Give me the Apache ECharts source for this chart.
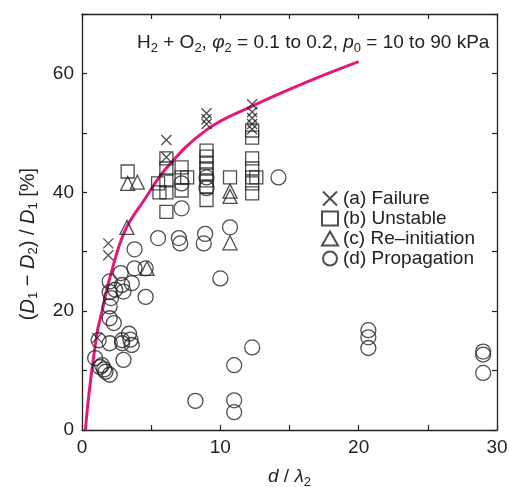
<!DOCTYPE html>
<html>
<head>
<meta charset="utf-8">
<script src="https://cdn.jsdelivr.net/npm/echarts@6/dist/echarts.min.js"></script>
<style>
  html, body { margin: 0; padding: 0; background: #fff; }
  #main { width: 510px; height: 487px; }
</style>
</head>
<body>
<div id="main"></div>
<script>
// values: [d / lambda2, (D1 - D2) / D1 %]
var failure = [
  [1.1, 15.5], [1.9, 31.4], [1.9, 29.4],
  [6.1, 48.8], [6.1, 45.9],
  [9.0, 53.3], [9.0, 52.3], [9.0, 51.5],
  [12.3, 54.8], [12.3, 53.5], [12.3, 52.5], [12.3, 51.5], [12.3, 50.6]
];
var unstable = [
  [3.3, 43.5], [5.5, 41.5], [5.6, 40.0],
  [6.1, 45.7], [6.1, 44.0], [6.1, 42.0], [6.1, 40.0], [6.1, 36.7],
  [7.2, 44.2], [7.2, 42.5], [7.2, 40.3], [7.6, 42.5],
  [9.0, 47.0], [9.0, 46.0], [9.0, 45.0], [9.0, 44.0], [9.0, 43.0], [9.0, 42.0], [9.0, 41.0], [9.0, 38.7],
  [10.7, 42.5],
  [12.3, 50.4], [12.3, 49.2], [12.3, 45.7], [12.3, 44.0], [12.3, 42.5], [12.3, 41.5], [12.3, 39.8], [12.6, 42.5]
];
var reinit = [
  [3.3, 41.5], [4.0, 41.7], [3.25, 34.1], [4.7, 27.2],
  [10.7, 40.2], [10.7, 39.3], [10.7, 31.5]
];
var propagation = [
  [0.95, 12.1], [1.2, 15.1], [1.3, 10.6], [1.45, 10.9], [1.6, 10.2], [1.7, 9.8], [2.0, 9.3],
  [2.0, 14.6], [2.0, 18.8], [2.3, 18.0], [2.0, 20.8], [2.1, 22.2], [2.0, 23.2], [2.0, 25.0],
  [2.4, 23.6], [2.9, 24.4], [2.8, 26.4], [3.0, 23.3], [3.6, 24.7], [3.8, 27.2], [3.8, 30.4],
  [4.6, 27.2], [4.6, 22.4], [2.9, 15.1], [2.9, 14.6], [3.5, 15.2], [3.4, 16.2], [3.6, 14.3],
  [3.0, 11.8], [5.5, 32.3], [7.0, 32.3], [7.1, 31.4], [7.2, 37.3], [7.2, 41.5],
  [8.9, 33.0], [8.8, 31.4], [9.0, 42.5], [9.0, 40.7], [10.7, 34.1], [10.0, 25.5],
  [8.2, 4.9], [11.0, 10.9], [11.0, 5.0], [11.0, 3.0], [12.3, 13.9], [14.2, 42.5],
  [20.7, 16.8], [20.7, 15.6], [20.7, 13.8], [29.0, 13.2], [29.0, 12.7], [29.0, 9.6]
];
// pink curve, points read along it
var curve = [
  [0.25, 0], [0.5, 6], [1.1, 16.5], [1.45, 20], [2.0, 25.5], [3.1, 33.5], [4.5, 38.7],
  [6.15, 44.2], [9.0, 50.5], [12.3, 54.5], [16.5, 58.8], [20.0, 62]
];
var names = ['(a) Failure', '(b) Unstable', '(c) Re\u2013initiation', '(d) Propagation'];

var font = 'Liberation Sans, Arial, Helvetica, sans-serif';
var ink = '#222';
var crossPath = 'path://M0,0L10,10M10,0L0,10';

// rich styles: base text sits at the top of a 22px line, subscripts at its bottom
function richSet(size, key) {
  var b = { fontSize: size, fontFamily: font, lineHeight: 22, verticalAlign: 'top' };
  var i = { fontSize: size, fontFamily: font, fontStyle: 'italic', lineHeight: 22, verticalAlign: 'top' };
  var s = { fontSize: 13, fontFamily: font, lineHeight: 22, verticalAlign: 'bottom' };
  b[key] = ink; i[key] = ink; s[key] = ink;
  return { b: b, i: i, s: s };
}

function markStyle() {
  return { color: 'transparent', borderColor: ink, borderWidth: 1.3 };
}
function tickAxis(extra) {
  var a = {
    axisLine: { onZero: false, lineStyle: { color: ink, width: 1.3 } },
    axisTick: { inside: true, length: 5, lineStyle: { color: ink, width: 1.2 } },
    splitLine: { show: false },
    axisLabel: { color: ink, fontFamily: font, fontSize: 19 }
  };
  for (var k in extra) a[k] = extra[k];
  return a;
}

var chart = echarts.init(document.getElementById('main'));
var option = {
  animation: false,
  grid: { left: 82, right: 13, top: 14, bottom: 57, containLabel: false, outerBoundsMode: 'none' },
  xAxis: [
    tickAxis({
      type: 'value', min: 0, max: 30, interval: 5,
      axisLabel: { color: ink, fontFamily: font, fontSize: 19, margin: 8,
        formatter: function (v) { return v % 10 === 0 ? v : ''; } },
      name: '{i|d}{b| / }{i|\u03bb}{s|2}', nameLocation: 'middle', nameGap: 37,
      nameTextStyle: { color: ink, fontFamily: font, fontSize: 19, rich: richSet(19, 'color') }
    }),
    tickAxis({ type: 'value', min: 0, max: 30, interval: 5, position: 'top',
      axisLabel: { show: false } })
  ],
  yAxis: [
    tickAxis({
      type: 'value', min: 0, max: 70, interval: 10,
      axisLabel: { color: ink, fontFamily: font, fontSize: 19, margin: 8,
        formatter: function (v) { return v % 20 === 0 ? v : ''; } },
      name: '{b|(}{i|D}{s|1}{b| \u2212 }{i|D}{s|2}{b|) / }{i|D}{s|1}{b| [%]}',
      nameLocation: 'middle', nameGap: 42, nameRotate: 90,
      nameTextStyle: { color: ink, fontFamily: font, fontSize: 19, padding: [0, 44, 0, 0],
        rich: richSet(20, 'color') }
    }),
    tickAxis({ type: 'value', min: 0, max: 70, interval: 10, position: 'right',
      axisLabel: { show: false } })
  ],
  legend: {
    orient: 'vertical', left: 316, top: 184, itemGap: 1, itemWidth: 16, itemHeight: 14,
    data: names,
    textStyle: { color: ink, fontFamily: font, fontSize: 19, lineHeight: 18 }
  },
  graphic: [{
    type: 'text', left: 137, top: 33,
    style: {
      text: '{b|H}{s|2}{b| + O}{s|2}{b|, }{i|\u03c6}{s|2}{b| = 0.1 to 0.2, }{i|p}{s|0}{b| = 10 to 90 kPa}',
      rich: richSet(19, 'fill')
    }
  }],
  series: [
    { name: 'curve', type: 'line', data: curve, smooth: 0.4, showSymbol: false,
      lineStyle: { color: '#e4187a', width: 3 }, z: 1 },
    { name: names[0], type: 'scatter', data: failure, symbol: crossPath, symbolSize: 10,
      itemStyle: markStyle(), z: 3 },
    { name: names[1], type: 'scatter', data: unstable, symbol: 'rect', symbolSize: 13,
      itemStyle: markStyle(), z: 3 },
    { name: names[2], type: 'scatter', data: reinit, symbol: 'triangle', symbolSize: 14,
      itemStyle: markStyle(), z: 3 },
    { name: names[3], type: 'scatter', data: propagation, symbol: 'circle', symbolSize: 15,
      itemStyle: markStyle(), z: 3 }
  ]
};
chart.setOption(option);
</script>
</body>
</html>
